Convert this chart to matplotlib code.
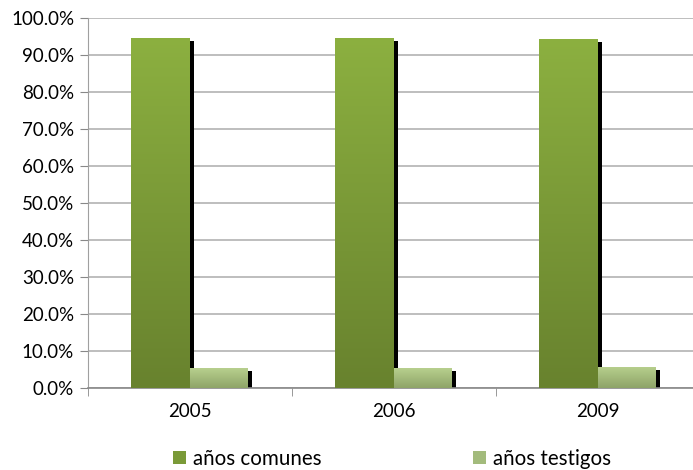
import matplotlib
matplotlib.use("Agg")
import matplotlib.pyplot as plt
import numpy as np
from matplotlib.colors import LinearSegmentedColormap
from matplotlib.patches import Rectangle

categories = ["2005", "2006", "2009"]
comunes = [94.7, 94.7, 94.3]
testigos = [5.3, 5.3, 5.7]
series_names = ["años comunes", "años testigos"]
yticks = [0, 10, 20, 30, 40, 50, 60, 70, 80, 90, 100]

plt.rcParams['font.family'] = ['Lato', 'DejaVu Sans']
FS = 13.5
LFS = 14.8

fig = plt.figure(figsize=(6.93, 4.70), dpi=100)
ax = fig.add_axes([88/693, (470-388)/470, 612/693, 370/470])

x = np.arange(len(categories))
w1, w2 = 0.289, 0.284
dx = 0.0196
dy = 0.8

cmap_g = LinearSegmentedColormap.from_list("g", ["#68822e", "#8cb040"])
cmap_l = LinearSegmentedColormap.from_list("l", ["#8ea468", "#b8d08e"])

grad = np.linspace(0, 1, 256).reshape(-1, 1)

def grad_bars(bars, cmap):
    for b in bars:
        b.set_facecolor("none")
        x0, y0 = b.get_x(), b.get_y()
        ww, hh = b.get_width(), b.get_height()
        im = ax.imshow(grad, extent=[x0, x0 + ww, y0, y0 + hh], origin="lower",
                       cmap=cmap, aspect="auto", zorder=3)
        im.set_clip_path(b)

# shadows
ax.bar(x - w1/2 + dx, np.array(comunes) - dy, width=w1, color="black", zorder=2)
ax.bar(x + w2/2 + dx, np.array(testigos) - dy, width=w2, color="black", zorder=2)

b1 = ax.bar(x - w1/2, comunes, width=w1, color="#7a9a38", zorder=3, linewidth=0)
b2 = ax.bar(x + w2/2, testigos, width=w2, color="#a3bb7c", zorder=3, linewidth=0)
grad_bars(b1, cmap_g)
grad_bars(b2, cmap_l)

ax.set_xlim(-0.5, 2.5)
ax.set_ylim(0, 100)
ax.set_yticks(yticks)
ax.set_yticklabels([f"{v:.1f}%" for v in yticks])
ax.set_xticks(x)
ax.set_xticklabels(categories)
ax.set_xticks([-0.5, 0.5, 1.5, 2.5], minor=True)
ax.tick_params(axis="x", which="major", length=0, pad=11, labelsize=FS, colors="black")
ax.tick_params(axis="x", which="minor", length=6, color="#888888", direction="out")
ax.tick_params(axis="y", length=6, color="#888888", pad=4, labelsize=FS)
ax.yaxis.grid(True, color="#b3b3b3", linewidth=1.2, zorder=0)
ax.set_axisbelow(True)
for s in ["top", "right"]:
    ax.spines[s].set_visible(False)
ax.spines["left"].set_color("#a0a0a0")
ax.spines["bottom"].set_color("#888888")
ax.spines["bottom"].set_linewidth(1.2)

h1 = Rectangle((0, 0), 1, 1, facecolor="#7a9a38")
h2 = Rectangle((0, 0), 1, 1, facecolor="#a3bb7c")
fig.legend([h1, h2], series_names, loc="center", bbox_to_anchor=(392/693, 1 - 459/470),
           ncol=2, frameon=False, fontsize=LFS, columnspacing=7.4,
           handlelength=0.62, handleheight=0.62, handletextpad=0.35)

fig.savefig("out.png", dpi=100)
